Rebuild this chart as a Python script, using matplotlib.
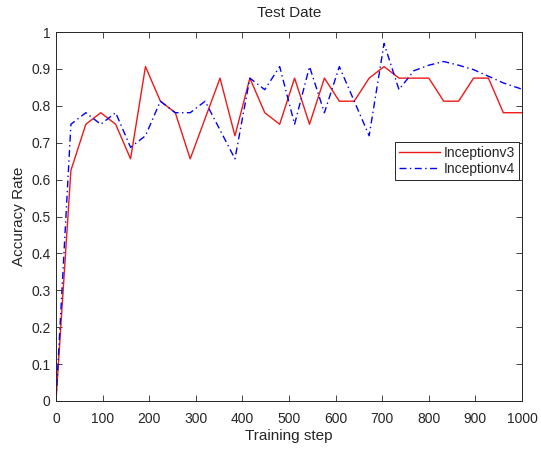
import matplotlib
matplotlib.use('Agg')
import matplotlib.pyplot as plt

# ---- Data ----
v3_step = [0, 32, 64, 96, 128, 160, 192, 224, 256, 288, 352, 384, 416, 448,
           480, 512, 544, 576, 608, 640, 672, 704, 736, 768, 800, 832, 864,
           896, 928, 960, 1000]
v3_acc = [0.0, 0.625, 0.75, 0.78125, 0.75, 0.65625, 0.90625, 0.8125, 0.78125,
          0.65625, 0.875, 0.71875, 0.875, 0.78125, 0.75, 0.875, 0.75, 0.875,
          0.8125, 0.8125, 0.875, 0.90625, 0.875, 0.875, 0.875, 0.8125, 0.8125,
          0.875, 0.875, 0.78125, 0.78125]

v4_step = [0, 32, 64, 96, 128, 160, 192, 224, 256, 288, 320, 384, 416, 448,
           480, 512, 544, 576, 608, 672, 704, 736, 768, 800, 832, 864, 896,
           928, 960, 1000]
v4_acc = [0.0, 0.75, 0.78125, 0.75, 0.78125, 0.6875, 0.71875, 0.8125, 0.78125,
          0.78125, 0.8125, 0.65625, 0.875, 0.84375, 0.90625, 0.75, 0.90625,
          0.78125, 0.90625, 0.71875, 0.96875, 0.84375, 0.895, 0.91, 0.92,
          0.91, 0.898, 0.88, 0.862, 0.845]

x_ticks = list(range(0, 1001, 100))
y_ticks = [i / 10 for i in range(11)]

plt.rcParams['font.family'] = ['Liberation Sans', 'DejaVu Sans']
TXT = '#262626'

fig = plt.figure(figsize=(5.41, 4.5), dpi=100)
ax = fig.add_axes([56 / 541, 49 / 450, 466 / 541, 369 / 450])

ax.plot(v3_step, v3_acc, '-', color='#F01818', linewidth=1.0, label='Inceptionv3')
ax.plot(v4_step, v4_acc, '-.', color='#0000FF', linewidth=1.0,
        dashes=(5, 2.5, 1, 2.5), label='Inceptionv4')

ax.set_xlim(0, 1000)
ax.set_ylim(0, 1)
ax.set_xticks(x_ticks)
ax.set_yticks(y_ticks)
ax.set_yticklabels(['0', '0.1', '0.2', '0.3', '0.4', '0.5', '0.6', '0.7',
                    '0.8', '0.9', '1'])
ax.tick_params(direction='in', length=4, width=0.6, top=True, right=True,
               labelsize=10, colors=TXT)
ax.tick_params(axis='x', pad=8)
ax.tick_params(axis='y', pad=4)
for sp in ax.spines.values():
    sp.set_color(TXT)
    sp.set_linewidth(0.7)

ax.set_xlabel('Training step', fontsize=11, color=TXT, labelpad=2)
ax.set_ylabel('Accuracy Rate', fontsize=11, color=TXT, labelpad=4)
ax.set_title('Test Date', fontsize=11, color=TXT, pad=11)

leg = ax.legend(loc='upper right', bbox_to_anchor=(0.994, 0.702),
                borderaxespad=0, fancybox=False, framealpha=1,
                edgecolor=TXT, fontsize=10, handlelength=2.9,
                handletextpad=0.3, borderpad=0.3, labelspacing=0.1)
leg.get_frame().set_linewidth(0.7)
for t in leg.get_texts():
    t.set_color(TXT)

fig.savefig('out.png', dpi=100, facecolor='white')
